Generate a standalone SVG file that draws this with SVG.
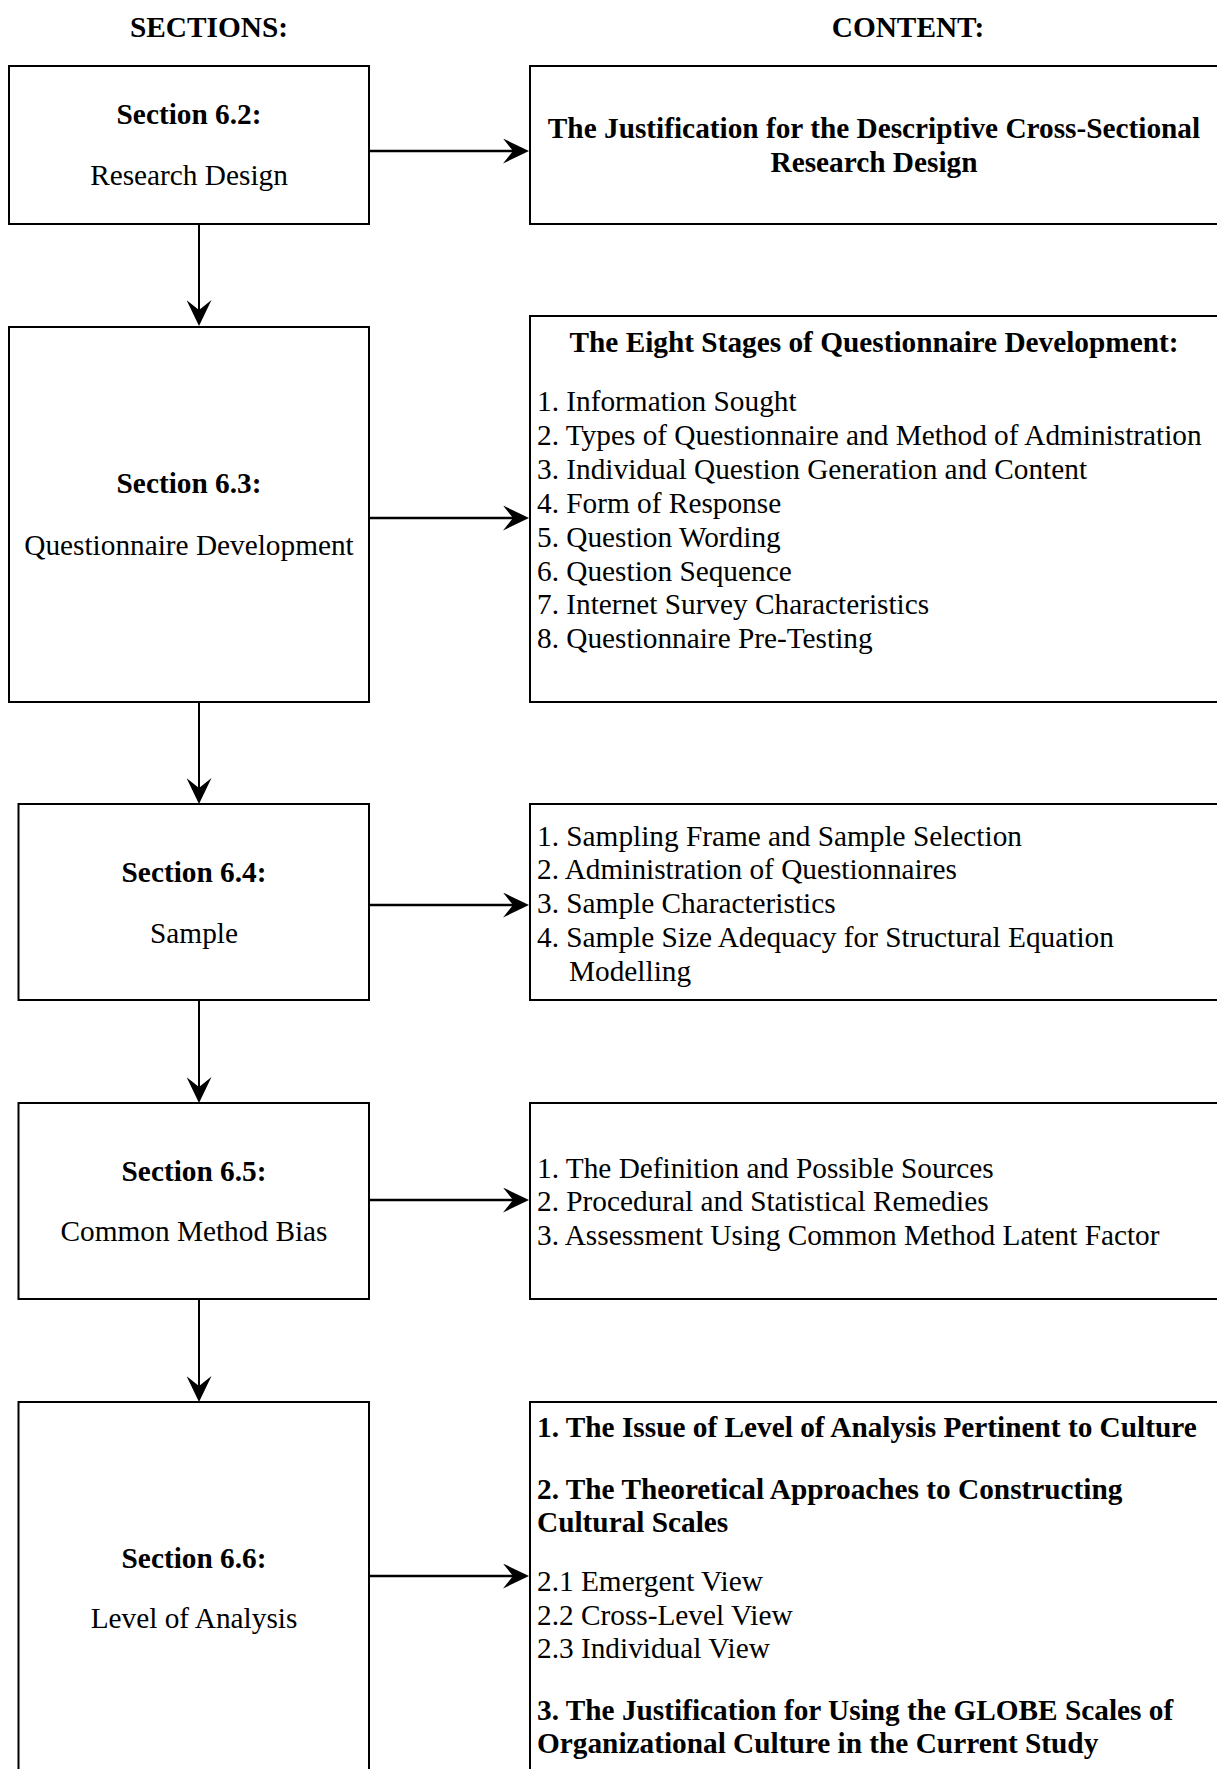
<svg xmlns="http://www.w3.org/2000/svg" width="1217" height="1769" viewBox="0 0 1217 1769">
  <style>
    text { font-family: "Liberation Serif", "Times New Roman", serif; font-size: 29.3px; fill: #000; }
    .b { font-weight: bold; }
    .c { text-anchor: middle; }
    .box { fill: #fff; stroke: #000; stroke-width: 2; }
    .h { stroke: #000; stroke-width: 2.6; fill: none; }
    .v { stroke: #000; stroke-width: 2; fill: none; }
  </style>
  <defs>
    <marker id="arrow" markerUnits="userSpaceOnUse" viewBox="0 0 26 25" refX="14" refY="12.5" markerWidth="26" markerHeight="25" orient="auto">
      <path d="M0,0 L26,12.5 L0,25 L10,12.5 Z" fill="#000"/>
    </marker>
  </defs>

  <rect width="1217" height="1769" fill="#fff"/>

  <!-- column headings -->
  <text class="b c" x="209" y="37">SECTIONS:</text>
  <text class="b c" x="908" y="37">CONTENT:</text>

  <!-- connectors -->
  <g id="connectors">
    <path class="h" d="M369,151 H517" marker-end="url(#arrow)"/>
    <path class="h" d="M369,518 H517" marker-end="url(#arrow)"/>
    <path class="h" d="M369,905 H517" marker-end="url(#arrow)"/>
    <path class="h" d="M369,1200 H517" marker-end="url(#arrow)"/>
    <path class="h" d="M369,1576 H517" marker-end="url(#arrow)"/>
    <path class="v" d="M199,224 V314" marker-end="url(#arrow)"/>
    <path class="v" d="M199,702 V792" marker-end="url(#arrow)"/>
    <path class="v" d="M199,1000 V1091" marker-end="url(#arrow)"/>
    <path class="v" d="M199,1299 V1390" marker-end="url(#arrow)"/>
  </g>

  <!-- section nodes -->
  <g id="sec-6-2">
    <rect class="box" x="9" y="66" width="360" height="158"/>
    <text class="b c" x="189" y="124">Section 6.2:</text>
    <text class="c" x="189" y="185">Research Design</text>
  </g>
  <g id="sec-6-3">
    <rect class="box" x="9" y="327" width="360" height="375"/>
    <text class="b c" x="189" y="493">Section 6.3:</text>
    <text class="c" x="189" y="555">Questionnaire Development</text>
  </g>
  <g id="sec-6-4">
    <rect class="box" x="18.5" y="804" width="350.5" height="196"/>
    <text class="b c" x="194" y="882">Section 6.4:</text>
    <text class="c" x="194" y="943">Sample</text>
  </g>
  <g id="sec-6-5">
    <rect class="box" x="18.5" y="1103" width="350.5" height="196"/>
    <text class="b c" x="194" y="1181">Section 6.5:</text>
    <text class="c" x="194" y="1241">Common Method Bias</text>
  </g>
  <g id="sec-6-6">
    <rect class="box" x="18.5" y="1402" width="350.5" height="380"/>
    <text class="b c" x="194" y="1568">Section 6.6:</text>
    <text class="c" x="194" y="1628">Level of Analysis</text>
  </g>

  <!-- content nodes -->
  <g id="content-6-2">
    <rect class="box" x="530" y="66" width="700" height="158"/>
    <text class="b c" x="874" y="138">The Justification for the Descriptive Cross-Sectional</text>
    <text class="b c" x="874" y="172">Research Design</text>
  </g>
  <g id="content-6-3">
    <rect class="box" x="530" y="316" width="700" height="386"/>
    <text class="b c" x="874" y="352">The Eight Stages of Questionnaire Development:</text>
    <text x="537" y="411">1. Information Sought</text>
    <text x="537" y="445">2. Types of Questionnaire and Method of Administration</text>
    <text x="537" y="479">3. Individual Question Generation and Content</text>
    <text x="537" y="513">4. Form of Response</text>
    <text x="537" y="547">5. Question Wording</text>
    <text x="537" y="581">6. Question Sequence</text>
    <text x="537" y="614">7. Internet Survey Characteristics</text>
    <text x="537" y="648">8. Questionnaire Pre-Testing</text>
  </g>
  <g id="content-6-4">
    <rect class="box" x="530" y="804" width="700" height="196"/>
    <text x="537" y="845.5">1. Sampling Frame and Sample Selection</text>
    <text x="537" y="879.3">2. Administration of Questionnaires</text>
    <text x="537" y="913">3. Sample Characteristics</text>
    <text x="537" y="947">4. Sample Size Adequacy for Structural Equation</text>
    <text x="569" y="980.8">Modelling</text>
  </g>
  <g id="content-6-5">
    <rect class="box" x="530" y="1103" width="700" height="196"/>
    <text x="537" y="1177.5">1. The Definition and Possible Sources</text>
    <text x="537" y="1211.3">2. Procedural and Statistical Remedies</text>
    <text x="537" y="1245.1">3. Assessment Using Common Method Latent Factor</text>
  </g>
  <g id="content-6-6">
    <rect class="box" x="530" y="1402" width="700" height="380"/>
    <text class="b" x="537" y="1437">1. The Issue of Level of Analysis Pertinent to Culture</text>
    <text class="b" x="537" y="1499">2. The Theoretical Approaches to Constructing</text>
    <text class="b" x="537" y="1532">Cultural Scales</text>
    <text x="537" y="1591">2.1 Emergent View</text>
    <text x="537" y="1625">2.2 Cross-Level View</text>
    <text x="537" y="1658">2.3 Individual View</text>
    <text class="b" x="537" y="1720">3. The Justification for Using the GLOBE Scales of</text>
    <text class="b" x="537" y="1753">Organizational Culture in the Current Study</text>
  </g>
</svg>
